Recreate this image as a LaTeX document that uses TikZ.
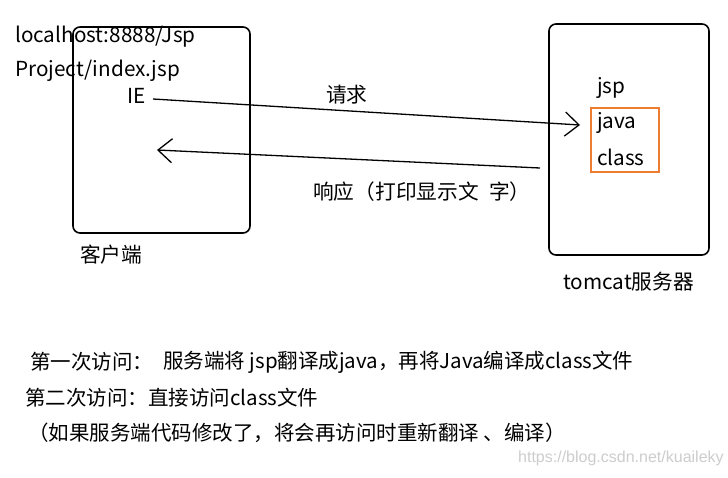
\documentclass[tikz,border=0pt]{standalone}
\usepackage{fontspec}
\setmainfont{Noto Sans CJK SC}
\newfontfamily\wmfont{Liberation Sans}
\usetikzlibrary{arrows.meta}
\definecolor{orangebox}{RGB}{237,125,49}
\definecolor{wmgray}{RGB}{205,205,205}
\tikzset{
  box/.style={draw=black, line width=1.6pt, rounded corners=7pt},
  lbl/.style={anchor=west, inner sep=0pt, font=\fontsize{20.7}{23}\selectfont},
  note/.style={anchor=west, inner sep=0pt, font=\fontsize{20.5}{23}\selectfont},
  conn/.style={line width=1.3pt},
  barbA/.style={-{Straight Barb[length=14pt,width=24pt,line width=1.3pt]}},
}
\begin{document}
\begin{tikzpicture}[x=1pt,y=-1pt]
\useasboundingbox (0,0) rectangle (728,477);
\fill[white] (0,0) rectangle (728,477);
% boxes
\draw[box] (73,27) rectangle (250,233);
\node[inner sep=0pt] (client) at (161.5,130) {};
\draw[box] (549,24) rectangle (709,255);
\node[draw=orangebox, line width=1.3pt, minimum width=68pt, minimum height=64pt, inner sep=0pt] (orange) at (625,140) {};
% texts
\node[lbl] (url1) at (15,37) {localhost:8888/Jsp};
\node[lbl] (url2) at (15,71) {Project/index.jsp};
\node[lbl] (ie) at (127,96) {IE};
\node[lbl] (req) at (326,95) {请求};
\node[lbl] (resp) at (313,192) {响应（打印显示文\hspace{0.5em}字）};
\node[lbl] (clientlbl) at (80,255) {客户端};
\node[lbl] (serverlbl) at (563,282) {tomcat服务器};
\node[lbl] (jsp) at (597,88) {jsp};
\node[lbl] (java) at (597,123) {java};
\node[lbl] (class) at (597,157) {class};
% connectors
\coordinate (reqS) at (153,99);
\coordinate (reqE) at (580,125);
\coordinate (respS) at (540,168);
\coordinate (respE) at (157,150);
\draw[conn, barbA] (reqS) -- (reqE);
\draw[conn, barbA] (respS) -- (respE);
% notes
\node[note] (n1a) at (30,362) {第一次访问：};
\node[note] (n1b) at (163,362) {服务端将 jsp翻译成java，再将Java编译成class文件};
\node[note] (n2) at (25,398) {第二次访问：直接访问class文件};
\node[note] (n3) at (28,433) {（如果服务端代码修改了，将会再访问时重新翻译 、编译）};
\node[anchor=west, inner sep=0pt, text=wmgray, font=\wmfont\fontsize{16}{18}\selectfont] (wm) at (518,458) {https://blog.csdn.net/kuaileky};
\end{tikzpicture}
\end{document}
